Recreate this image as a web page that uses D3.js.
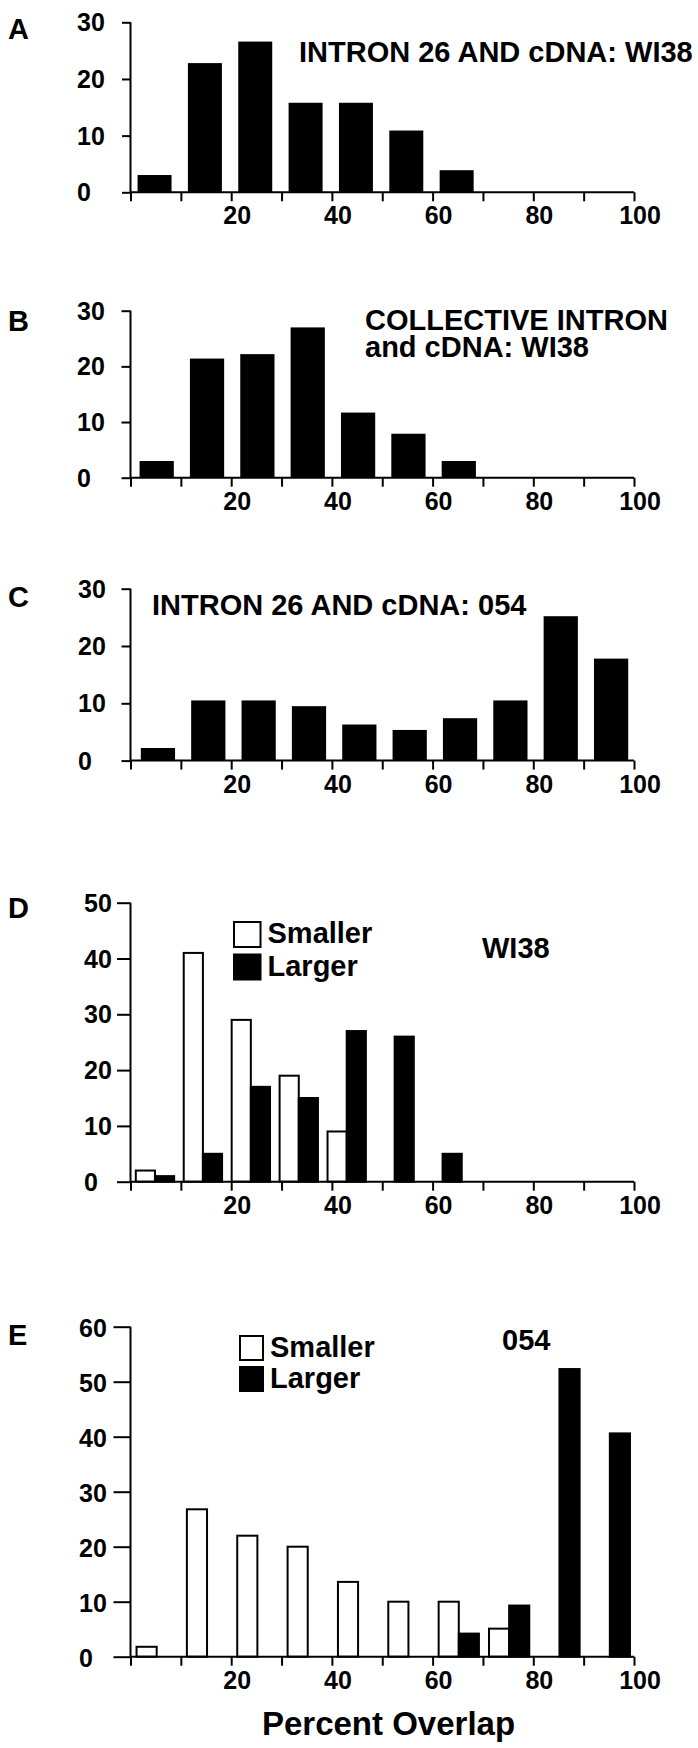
<!DOCTYPE html>
<html>
<head>
<meta charset="utf-8">
<script src="https://cdn.jsdelivr.net/npm/d3@7"></script>
<style>
  html, body { margin: 0; padding: 0; background: #fff; }
  svg { display: block; }
  text { font-family: "Liberation Sans", Arial, Helvetica, sans-serif; font-weight: bold; fill: #000; }
</style>
</head>
<body>
<div id="chart"></div>
<script>
// ---------------- DATA ----------------
const bins = [0, 1, 2, 3, 4, 5, 6, 7, 8, 9];           // bin index (0-10%, 10-20%, ...)
const xTickValues = [0, 10, 20, 30, 40, 50, 60, 70, 80, 90, 100];
const xTickLabels = [20, 40, 60, 80, 100];

const panelLetters = ["A", "B", "C", "D", "E"];
const titleA = ["INTRON 26 AND cDNA: WI38"];
const titleB = ["COLLECTIVE INTRON", "and cDNA: WI38"];
const titleC = ["INTRON 26 AND cDNA: 054"];
const titleD = ["WI38"];
const titleE = ["054"];
const seriesNames = ["Smaller", "Larger"];
const xAxisTitle = "Percent Overlap";

const valuesA = [3.05, 22.8, 26.6, 15.8, 15.8, 10.9, 3.9, 0, 0, 0];
const valuesB = [3.0, 21.4, 22.2, 27.0, 11.7, 7.9, 3.0, 0, 0, 0];
const valuesC = [2.2, 10.5, 10.5, 9.5, 6.3, 5.35, 7.4, 10.5, 25.2, 17.8];
const smallerD = [2, 41, 29, 19, 9, 0, 0, 0, 0, 0];
const largerD  = [1, 5, 17, 15, 27, 26, 5, 0, 0, 0];
const smallerE = [1.8, 26.8, 22, 20, 13.6, 10, 10, 5.1, 0, 0];
const largerE  = [0, 0, 0, 0, 0, 0, 4.2, 9.3, 52.3, 40.6];

const yTicks30 = [0, 10, 20, 30];
const yTicks50 = [0, 10, 20, 30, 40, 50];
const yTicks60 = [0, 10, 20, 30, 40, 50, 60];

// ---------------- LAYOUT ----------------
const W = 698, H = 1748;
const svg = d3.select("#chart").append("svg").attr("width", W).attr("height", H);

const x = d3.scaleLinear().domain([0, 100]).range([130.5, 634]);

const panels = [
  { letter: panelLetters[0], letterY: 39, top: 22.3, base: 192.3, ymax: 30, ticks: yTicks30, tickLen: 8.5, labelX: 77, labelDy: 9,
    single: valuesA, barStart: 1.4, barW: 6.75,
    title: titleA, titleX: 299, titleY: 62, titleLH: 27 },
  { letter: panelLetters[1], letterY: 331, top: 310.7, base: 477.7, ymax: 30, ticks: yTicks30, tickLen: 9, labelX: 77, labelDy: 9,
    single: valuesB, barStart: 1.8, barW: 6.8,
    title: titleB, titleX: 365, titleY: 330, titleLH: 27 },
  { letter: panelLetters[2], letterY: 607, top: 588.7, base: 760.6, ymax: 30, ticks: yTicks30, tickLen: 9, labelX: 78, labelDy: 9,
    single: valuesC, barStart: 2.05, barW: 6.8,
    title: titleC, titleX: 152, titleY: 615, titleLH: 27 },
  { letter: panelLetters[3], letterY: 918, top: 902.7, base: 1181.7, ymax: 50, ticks: yTicks50, tickLen: 13.5, labelX: 84, labelDy: 9,
    pair: [smallerD, largerD], groupRange: [0.1, 95.3],
    title: titleD, titleX: 482, titleY: 958, titleLH: 27,
    legend: { x: 234, y: 922, dy: 32.5, w: 26.5, h: 25 } },
  { letter: panelLetters[4], letterY: 1345, top: 1326.7, base: 1656.7, ymax: 60, ticks: yTicks60, tickLen: 17, labelX: 79, labelDy: 10,
    pair: [smallerE, largerE], groupRange: [0.2, 100.2],
    title: titleE, titleX: 502, titleY: 1350, titleLH: 27,
    legend: { x: 240, y: 1336, dy: 31, w: 23, h: 24 } }
];

const fills = ["#fff", "#000"];

panels.forEach(p => {
  const g = svg.append("g");
  const y = d3.scaleLinear().domain([0, p.ymax]).range([p.base, p.top]);

  // panel letter
  g.append("text").attr("x", 8).attr("y", p.letterY).attr("font-size", 29).text(p.letter);

  // bars
  if (p.single) {
    g.selectAll("rect.bar").data(bins).enter().append("rect")
      .attr("class", "bar")
      .attr("x", i => x(i * 10 + p.barStart))
      .attr("width", x(p.barW) - x(0))
      .attr("y", i => y(p.single[i]))
      .attr("height", i => y(0) - y(p.single[i]))
      .attr("fill", "#000");
  } else {
    const groups = d3.scaleBand().domain(bins)
      .range([x(p.groupRange[0]), x(p.groupRange[1])])
      .paddingInner(0.2).paddingOuter(0.1);
    const sub = d3.scaleBand().domain([0, 1]).range([0, groups.bandwidth()]);
    p.pair.forEach((vals, s) => {
      g.selectAll("rect.s" + s).data(bins.filter(i => vals[i] > 0 || (s === 0 && i < 7))).enter().append("rect")
        .attr("class", "s" + s)
        .attr("x", i => groups(i) + sub(s))
        .attr("width", sub.bandwidth())
        .attr("y", i => y(vals[i]))
        .attr("height", i => y(0) - y(vals[i]))
        .attr("fill", fills[s])
        .attr("stroke", "#000")
        .attr("stroke-width", 2);
    });
  }

  // y axis
  const yAxis = d3.axisLeft(y).tickValues(p.ticks).tickSize(p.tickLen).tickFormat("");
  const ya = g.append("g").attr("transform", `translate(${x(0)},0)`).call(yAxis);
  ya.select(".domain").attr("stroke-width", 2).attr("d", `M0,${y(p.ymax)}V${y(0)}`);
  ya.selectAll(".tick line").attr("stroke-width", 2);
  // y labels (left aligned as in the original)
  g.selectAll("text.yl").data(p.ticks).enter().append("text")
    .attr("class", "yl")
    .attr("x", p.labelX)
    .attr("y", d => y(d) + p.labelDy)
    .attr("font-size", 25)
    .text(d => d);

  // x axis
  const xAxis = d3.axisBottom(x).tickValues(xTickValues).tickSize(9).tickFormat("");
  const xa = g.append("g").attr("transform", `translate(0,${y(0)})`).call(xAxis);
  xa.select(".domain").attr("stroke-width", 2).attr("d", `M${x(0)},0H${x(100)}`);
  xa.selectAll(".tick line").attr("stroke-width", 2);
  g.selectAll("text.xl").data(xTickLabels).enter().append("text")
    .attr("class", "xl")
    .attr("x", d => x(d) + 6)
    .attr("y", y(0) + 32)
    .attr("text-anchor", "middle")
    .attr("font-size", 25)
    .text(d => d);

  // title (one text element, one tspan per line)
  const tt = g.append("text").attr("x", p.titleX).attr("y", p.titleY).attr("font-size", 29);
  p.title.forEach((t, k) => {
    tt.append("tspan").attr("x", p.titleX).attr("y", p.titleY + k * p.titleLH).text(t);
  });

  // legend
  if (p.legend) {
    const L = p.legend;
    seriesNames.forEach((name, s) => {
      g.append("rect").attr("x", L.x).attr("y", L.y + s * L.dy)
        .attr("width", L.w).attr("height", L.h)
        .attr("fill", fills[s]).attr("stroke", "#000").attr("stroke-width", 2);
      g.append("text").attr("x", L.x + L.w + 7).attr("y", L.y + s * L.dy + 21)
        .attr("font-size", 29).text(name);
    });
  }
});

svg.append("text").attr("x", 388.5).attr("y", 1735).attr("text-anchor", "middle")
  .attr("font-size", 33).text(xAxisTitle);
</script>
</body>
</html>
